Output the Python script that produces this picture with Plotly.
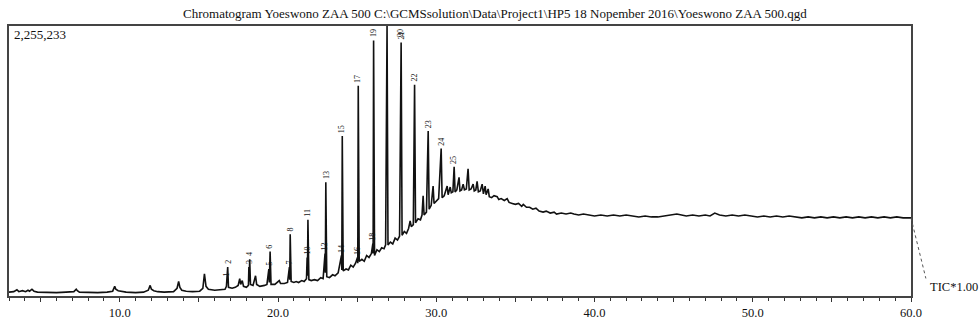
import plotly.graph_objects as go

# ---------------- data ----------------
Y_MAX = 2255233  # full-scale intensity shown at top-left

rt = [3.00, 3.30, 3.50, 3.62, 3.85, 4.05, 4.20, 4.30, 4.45, 4.58, 4.80, 5.30, 6.00, 6.60, 7.10, 7.25, 7.32, 7.45,
      8.00, 8.60, 9.20, 9.55, 9.68, 9.75, 9.90, 10.05, 10.40, 11.00, 11.50, 11.80, 11.92, 12.00, 12.15, 12.40,
      12.80, 13.40, 13.62, 13.72, 13.80, 13.92, 14.20, 14.60, 15.05, 15.25, 15.35, 15.45, 15.60, 16.00, 16.40,
      16.65, 16.74, 16.77, 16.79, 16.82, 16.87, 17.10, 17.30, 17.48, 17.58, 17.64, 17.74, 17.82, 18.00, 18.13,
      18.16, 18.18, 18.21, 18.26, 18.42, 18.58, 18.65, 18.85, 19.15, 19.30, 19.42, 19.45, 19.50, 19.56, 19.80,
      19.95, 20.08, 20.16, 20.40, 20.60, 20.72, 20.74, 20.77, 20.83, 21.00, 21.15, 21.30, 21.50, 21.65, 21.80,
      21.84, 21.86, 21.89, 21.95, 22.10, 22.30, 22.50, 22.70, 22.85, 22.97, 22.99, 23.02, 23.08, 23.25, 23.45,
      23.60, 23.80, 24.01, 24.03, 24.06, 24.12, 24.30, 24.45, 24.60, 24.75, 24.90, 25.02, 25.04, 25.07, 25.13,
      25.30, 25.45, 25.60, 25.75, 25.90, 25.99, 26.01, 26.04, 26.10, 26.25, 26.40, 26.55, 26.70, 26.80, 26.89,
      26.95, 27.10, 27.25, 27.40, 27.55, 27.68, 27.78, 27.84, 27.98, 28.12, 28.25, 28.35, 28.42, 28.55, 28.63,
      28.69, 28.85, 29.00, 29.10, 29.17, 29.23, 29.38, 29.49, 29.55, 29.68, 29.80, 29.86, 30.00, 30.15, 30.31,
      30.37, 30.50, 30.69, 30.75, 30.88, 30.95, 31.05, 31.13, 31.19, 31.30, 31.44, 31.50, 31.60, 31.70, 31.78,
      31.90, 32.01, 32.08, 32.20, 32.33, 32.40, 32.50, 32.58, 32.66, 32.78, 32.90, 32.98, 33.09, 33.15, 33.28,
      33.35, 33.50, 33.65, 33.85, 33.95, 34.10, 34.30, 34.48, 34.60, 34.80, 35.00, 35.20, 35.40, 35.50, 35.70,
      35.90, 36.10, 36.30, 36.50, 36.75, 36.95, 37.20, 37.45, 37.60, 37.90, 38.20, 38.50, 38.70, 39.00, 39.30,
      39.60, 40.00, 40.40, 40.80, 41.20, 41.60, 42.00, 42.40, 42.80, 43.20, 43.60, 44.00, 44.40, 44.80, 45.20,
      45.50, 45.80, 46.20, 46.60, 47.00, 47.30, 47.60, 47.90, 48.30, 48.70, 49.10, 49.50, 49.90, 50.30, 50.70,
      51.10, 51.50, 51.90, 52.30, 52.70, 53.10, 53.50, 53.90, 54.30, 54.70, 55.10, 55.50, 55.90, 56.30, 56.70,
      57.10, 57.50, 57.90, 58.30, 58.70, 59.10, 59.50, 60.00]

tic = [32200, 36200, 52400, 36200, 44300, 36200, 48300, 40300, 56400, 40300, 32200, 28200, 28200, 32200, 36200,
       56400, 44300, 32200, 28200, 28200, 32200, 40300, 80500, 56400, 44300, 40300, 32200, 28200, 32200, 48300,
       88600, 56400, 44300, 36200, 32200, 36200, 64400, 120800, 72500, 48300, 40300, 36200, 40300, 64400, 185300,
       80500, 56400, 48300, 52400, 56400, 80500, 136900, 96700, 241600, 72500, 64400, 72500, 88600, 145000, 96700,
       128900, 80500, 72500, 88600, 241600, 120800, 306100, 96700, 88600, 169100, 96700, 80500, 88600, 96700,
       225500, 112800, 370500, 96700, 96700, 112800, 128900, 104700, 104700, 112800, 241600, 136900, 515500,
       120800, 112800, 120800, 112800, 128900, 120800, 145000, 322200, 169100, 636300, 136900, 128900, 136900,
       128900, 153000, 145000, 354400, 193300, 950400, 161100, 153000, 177200, 169100, 193300, 338300, 217500,
       1337000, 209400, 225500, 217500, 257700, 241600, 273900, 322200, 273900, 1755900, 289900, 306100, 290000,
       338300, 322200, 354400, 434900, 354400, 2134400, 338300, 386600, 370500, 402700, 394700, 426900, 2255233,
       426900, 451000, 434900, 483300, 467200, 499400, 2118300, 507400, 539600, 523500, 563800, 628200, 579900,
       596000, 1763900, 612100, 644400, 636300, 676600, 837700, 676600, 700700, 1377300, 724900, 757100, 918200,
       773200, 789300, 813500, 1232300, 821500, 837700, 918200, 845700, 910100, 861800, 869900, 1079300, 869900,
       886000, 990700, 877900, 886000, 934300, 886000, 894000, 1063200, 886000, 894000, 934300, 877900, 886000,
       958500, 869900, 877900, 934300, 853800, 918200, 845700, 894000, 829600, 821500, 837700, 829600, 805400,
       813500, 797400, 813500, 781300, 773200, 765200, 773200, 749100, 765200, 741000, 741000, 724900, 732900,
       708800, 700700, 708800, 692700, 700700, 684600, 692700, 684600, 692700, 684600, 676600, 684600, 676600,
       668500, 676600, 668500, 676600, 668500, 676600, 668500, 660500, 668500, 660500, 660500, 668500, 676600,
       684600, 676600, 668500, 676600, 668500, 676600, 668500, 692700, 676600, 668500, 676600, 668500, 676600,
       668500, 660500, 668500, 660500, 668500, 660500, 668500, 660500, 652400, 660500, 652400, 660500, 652400,
       660500, 652400, 660500, 652400, 660500, 652400, 660500, 652400, 660500, 652400, 660500, 652400, 652400]

peak_no = ["1", "2", "3", "4", "5", "6", "7", "8", "10", "11", "12", "13", "14", "15", "16", "17",
           "18", "19", "20", "21", "22", "23", "24", "25"]
peak_rt = [16.77, 16.82, 18.16, 18.21, 19.42, 19.50, 20.72, 20.77, 21.84, 21.89, 22.97, 23.02, 24.01, 24.06,
           25.02, 25.07, 25.99, 26.04, 26.89, 27.78, 28.63, 29.49, 30.31, 31.13]
peak_height = [136900, 241600, 241600, 306100, 225500, 370500, 241600, 515500, 322200, 636300, 354400, 950400,
               338300, 1337000, 322200, 1755900, 434900, 2134400, 2255233, 2118300, 1763900, 1377300, 1232300,
               1079300]

major_ticks = [5, 10, 15, 20, 25, 30, 35, 40, 45, 50, 55, 60]
major_text = ["", "10.0", "", "20.0", "", "30.0", "", "40.0", "", "50.0", "", "60.0"]

title_text = ("Chromatogram Yoeswono ZAA 500 C:\\GCMSsolution\\Data\\Project1\\HP5 18 Nopember 2016"
              "\\Yoeswono ZAA 500.qgd")
scale_text = "2,255,233"
tic_text = "TIC*1.00"

# ---------------- figure ----------------
SERIF = "Liberation Serif, Times New Roman, serif"

fig = go.Figure()
fig.add_trace(go.Scatter(x=rt, y=tic, mode="lines",
                         line=dict(color="#111111", width=1.6), hoverinfo="x+y"))

annotations = []
for no, x, h in zip(peak_no, peak_rt, peak_height):
    if h >= Y_MAX * 0.99:
        annotations.append(dict(x=x, y=Y_MAX, xref="x", yref="y", text=no, textangle=-90,
                                showarrow=False, xanchor="center", yanchor="top", xshift=13, yshift=-1,
                                font=dict(family=SERIF, size=8, color="#111111")))
    else:
        annotations.append(dict(x=x, y=h, xref="x", yref="y", text=no, textangle=-90,
                                showarrow=False, xanchor="center", yanchor="bottom", yshift=1,
                                font=dict(family=SERIF, size=8, color="#111111")))

annotations.append(dict(x=0.003, y=1.0, xref="paper", yref="paper", text=scale_text, showarrow=False,
                        xanchor="left", yanchor="top", yshift=1,
                        font=dict(family=SERIF, size=13, color="#111111")))
annotations.append(dict(x=1.019, y=0.035, xref="paper", yref="paper", text=tic_text, showarrow=False,
                        xanchor="left", yanchor="middle",
                        font=dict(family=SERIF, size=12.5, color="#111111")))

shapes = [dict(type="line", xref="paper", yref="paper", x0=1.0, y0=tic[-1] / Y_MAX, x1=1.0165, y1=0.065,
               line=dict(color="#555555", width=1, dash="dot"))]

fig.update_layout(
    width=980, height=329,
    margin=dict(l=9, r=69, t=26, b=23),
    paper_bgcolor="white", plot_bgcolor="white",
    showlegend=False,
    title=dict(text=title_text, x=0.505, xref="container", xanchor="center",
               y=1 - 13.5 / 329, yref="container", yanchor="middle",
               font=dict(family=SERIF, size=13, color="#111111")),
    annotations=annotations,
    shapes=shapes,
    xaxis=dict(range=[3, 60], tickmode="array", tickvals=major_ticks, ticktext=major_text,
               ticks="outside", ticklen=4, tickwidth=1, tickcolor="#333333",
               minor=dict(dtick=1, ticks="outside", ticklen=3, tickwidth=1, tickcolor="#333333"),
               showgrid=False, zeroline=False, showline=True, mirror=True,
               linecolor="#444444", linewidth=1.5,
               tickfont=dict(family=SERIF, size=12.5, color="#111111")),
    yaxis=dict(range=[0, Y_MAX], showticklabels=False, ticks="", showgrid=False, zeroline=False,
               showline=True, mirror=True, linecolor="#444444", linewidth=1.5),
)

fig.write_html("out.html")
